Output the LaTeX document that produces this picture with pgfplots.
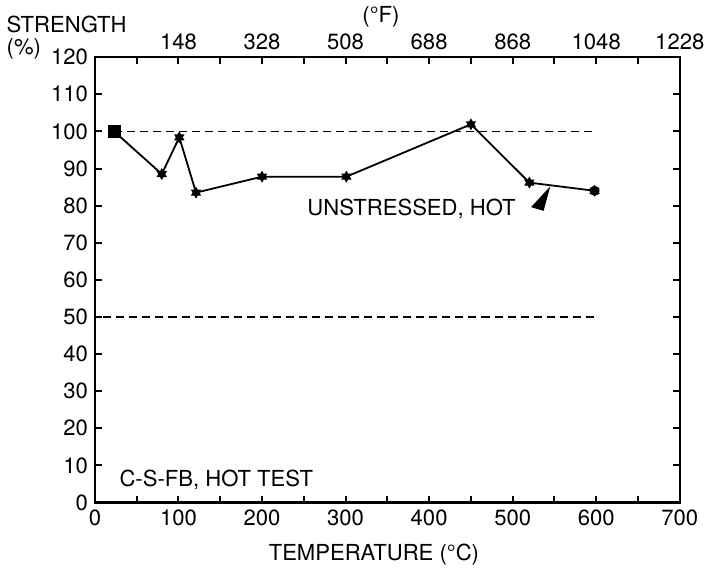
\documentclass[border=0pt]{standalone}
\usepackage{fontspec}
\setmainfont{TeX Gyre Heros}
\usepackage{pgfplots}
\pgfplotsset{compat=1.18}

% filled six-pointed star
\pgfdeclareplotmark{sixstar}{%
  \pgfpathmoveto{\pgfpointpolar{90}{\pgfplotmarksize}}%
  \pgfpathlineto{\pgfpointpolar{210}{\pgfplotmarksize}}%
  \pgfpathlineto{\pgfpointpolar{330}{\pgfplotmarksize}}%
  \pgfpathclose
  \pgfpathmoveto{\pgfpointpolar{270}{\pgfplotmarksize}}%
  \pgfpathlineto{\pgfpointpolar{30}{\pgfplotmarksize}}%
  \pgfpathlineto{\pgfpointpolar{150}{\pgfplotmarksize}}%
  \pgfpathclose
  \pgfusepathqfill
}

\begin{document}
\begin{tikzpicture}[font=\fontsize{11}{13}\selectfont]
\begin{axis}[
  scale only axis, width=291.5pt, height=222pt,
  xmin=0, xmax=700, ymin=0, ymax=120,
  xtick={0,100,...,700}, minor xtick={50,150,...,650},
  ytick={0,10,...,120},
  tick align=inside, xtick pos=both, ytick pos=both,
  xticklabel pos=bottom, yticklabel pos=left,
  major tick length=3.5pt, minor tick length=3.5pt,
  axis line style={line width=1.1pt},
  every tick/.style={black, line width=1pt},
  /pgf/number format/assume math mode=true,
  tick label style={font=\fontsize{11}{13}\selectfont},
  xlabel={TEMPERATURE (°C)},
  x label style={at={(axis description cs:0.477,0)}, anchor=north, yshift=-17pt},
  clip=false,
]
\addplot[black, line width=0.8pt, dash pattern=on 4pt off 2.5pt] coordinates {(23,100) (597,100)};
\addplot[black, line width=0.8pt, dash pattern=on 4pt off 2.5pt] coordinates {(10,50) (597,50)};
\addplot[black, line width=0.9pt, mark=sixstar, mark size=3pt] coordinates {
  (23,100) (80,88.5) (101,98.4) (121,83.5) (200,87.8) (301,87.8) (450,101.9) (520,86.2) (598,84)};
\addplot[black, only marks, mark=square*, mark size=3pt] coordinates {(23,100)};
\addplot[black, only marks, mark=*, mark size=2.3pt] coordinates {(598,84)};
\fill (axis cs:522,79.6) -- (axis cs:545,85.2) -- (axis cs:537,78.6) -- cycle;
\node[anchor=east] at (axis cs:512,79) {UNSTRESSED, HOT};
\node[anchor=west] at (axis cs:21,6.2) {C-S-FB, HOT TEST};
\node[anchor=west] at (axis description cs:-0.163,1.074) {STRENGTH};
\node[anchor=west] at (axis description cs:-0.163,1.018) {(\%)};
\node at (axis description cs:0.489,1.09) {(°F)};
\end{axis}
\begin{axis}[
  scale only axis, width=291.5pt, height=222pt,
  xmin=0, xmax=700, ymin=0, ymax=120,
  axis x line*=top, hide y axis,
  axis line style={draw=none},
  xtick={100,200,...,700},
  xticklabels={148,328,508,688,868,1048,1228},
  major tick length=0pt,
  tick label style={font=\fontsize{11}{13}\selectfont},
]
\end{axis}
\end{tikzpicture}
\end{document}
